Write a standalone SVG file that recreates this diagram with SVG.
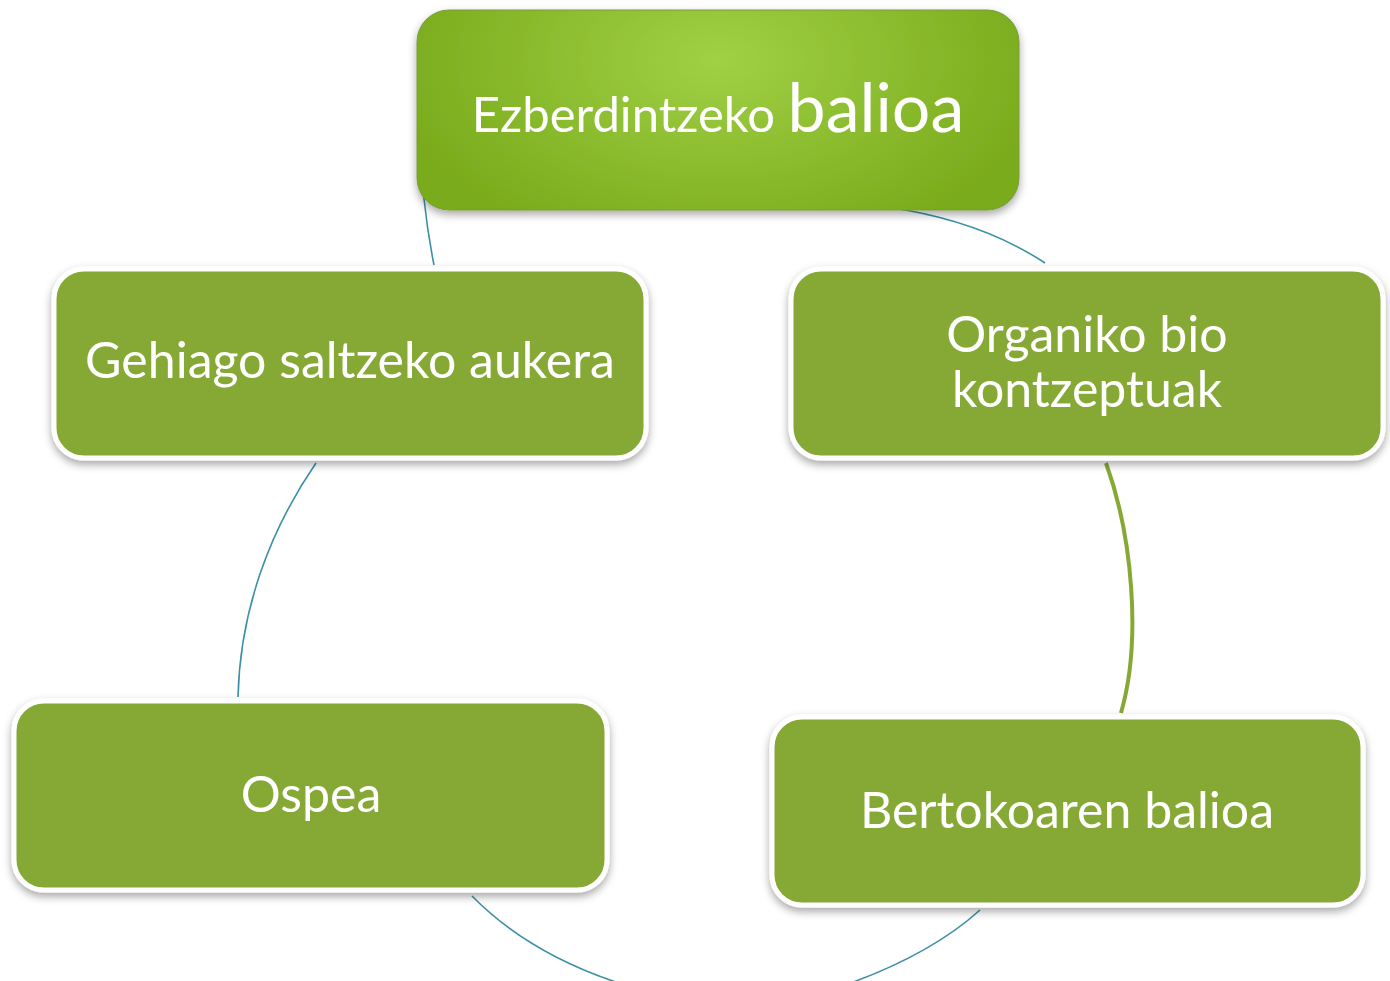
<svg xmlns="http://www.w3.org/2000/svg" width="1390" height="981" viewBox="0 0 1390 981">
<style>
.box{fill:#86a935;stroke:#ffffff;stroke-width:5}
.t{font-family:Lato,"Open Sans",sans-serif;fill:#ffffff;text-anchor:middle;font-size:50px}
.c{fill:none;stroke:#3a90a8;stroke-width:1.6}
</style>
<defs>
<filter id="sh" x="-10%" y="-10%" width="120%" height="130%">
<feDropShadow dx="0" dy="4" stdDeviation="4" flood-color="#000" flood-opacity="0.35"/>
</filter>
<radialGradient id="tg" cx="0.5" cy="0.25" r="0.55" gradientTransform="translate(0.5 0.25) scale(1 1.8) translate(-0.5 -0.25)">
<stop offset="0" stop-color="#a0d044"/>
<stop offset="1" stop-color="#7aab1c"/>
</radialGradient>
</defs>
<rect width="1390" height="981" fill="#ffffff"/>
<g id="connectors">
<path class="c" d="M420,138 Q422,205 434,265"/>
<path class="c" d="M886,207 Q980,220 1045,263"/>
<path class="c" d="M316,463 C270,530 240,610 238,697"/>
<path d="M1106,463 C1132,535 1142,640 1121,713" fill="none" stroke="#86a935" stroke-width="4"/>
<path class="c" d="M472,896 Q530,955 625,985"/>
<path class="c" d="M980,910 Q930,955 845,985"/>
</g>
<g id="n0">
<rect x="417" y="10" width="602" height="200" rx="32" fill="url(#tg)" stroke="#7a9a3a" stroke-width="1" filter="url(#sh)"/>
<text class="t" x="718" y="132"><tspan font-size="49">Ezberdintzeko </tspan><tspan font-size="68">balioa</tspan></text>
</g>
<g id="n1">
<rect class="box" x="54" y="269" width="592" height="189" rx="30" filter="url(#sh)"/>
<text class="t" x="350" y="378">Gehiago saltzeko aukera</text>
</g>
<g id="n2">
<rect class="box" x="791" y="269" width="592" height="189" rx="30" filter="url(#sh)"/>
<text class="t" x="1087" y="352">Organiko bio</text>
<text class="t" x="1087" y="407">kontzeptuak</text>
</g>
<g id="n3">
<rect class="box" x="14" y="701" width="593" height="189" rx="30" filter="url(#sh)"/>
<text class="t" x="311" y="812">Ospea</text>
</g>
<g id="n4">
<rect class="box" x="772" y="717" width="591" height="188" rx="30" filter="url(#sh)"/>
<text class="t" x="1067" y="828">Bertokoaren balioa</text>
</g>
</svg>
